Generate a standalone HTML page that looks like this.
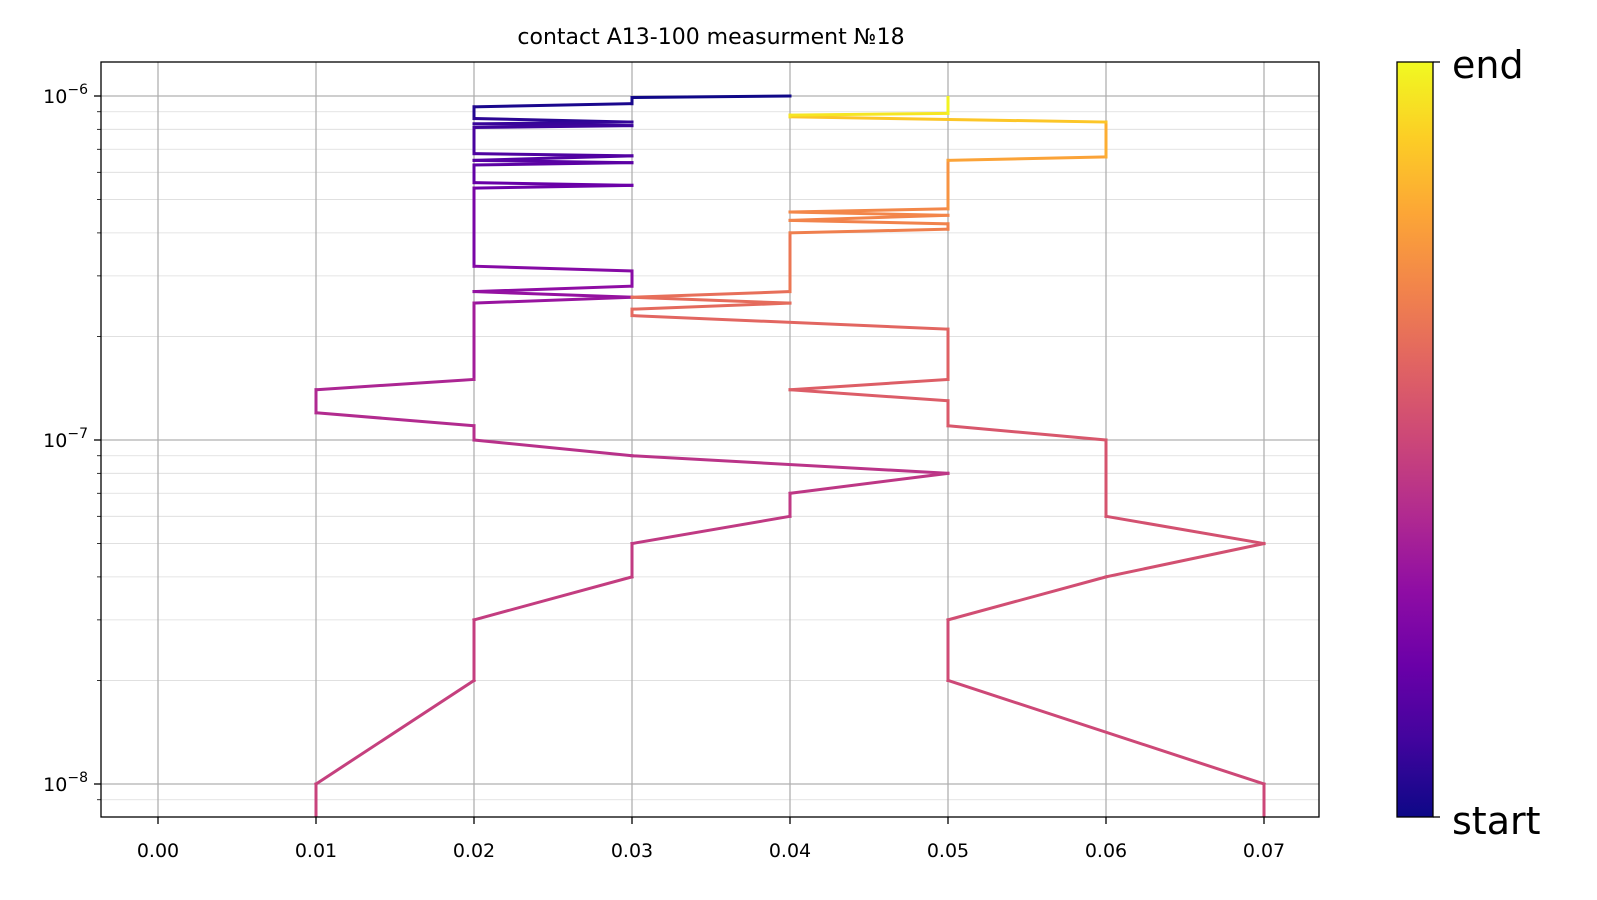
<!DOCTYPE html>
<html><head><meta charset="utf-8"><style>
html,body{margin:0;padding:0;width:1597px;height:900px;overflow:hidden;background:#fff;}
svg{display:block;font-family:"DejaVu Sans","Liberation Sans",sans-serif;}
</style></head><body>
<svg id="chart" width="1597" height="900" viewBox="0 0 1597 900">
<defs>
<linearGradient id="plasma" x1="0" y1="1" x2="0" y2="0">
<stop offset="0" stop-color="#0d0887"/><stop offset="0.1" stop-color="#41049d"/><stop offset="0.2" stop-color="#6a00a8"/><stop offset="0.3" stop-color="#8f0da4"/><stop offset="0.4" stop-color="#b12a90"/><stop offset="0.5" stop-color="#cc4778"/><stop offset="0.6" stop-color="#e16462"/><stop offset="0.7" stop-color="#f2844b"/><stop offset="0.8" stop-color="#fca636"/><stop offset="0.9" stop-color="#fcce25"/><stop offset="1" stop-color="#f0f921"/>
</linearGradient>
<clipPath id="clip"><rect x="101" y="62" width="1218" height="755"/></clipPath>
</defs>
<text x="711" y="44" text-anchor="middle" font-size="22">contact A13-100 measurment №18</text>
<g id="grid"></g>
<g id="series" clip-path="url(#clip)"></g>
<rect x="101" y="62" width="1218" height="755" fill="none" stroke="#000" stroke-width="1.3"/>
<g id="axes"></g>
<rect x="1397" y="62" width="36" height="755" fill="url(#plasma)" stroke="#000" stroke-width="1.3"/>
<line x1="1433" y1="62" x2="1440" y2="62" stroke="#000" stroke-width="1.3"/>
<line x1="1433" y1="817" x2="1440" y2="817" stroke="#000" stroke-width="1.3"/>
<text x="1452" y="78" font-size="38">end</text>
<text x="1452" y="834" font-size="38">start</text>
</svg>
<script>
const xs=[0.04,0.03,0.03,0.02,0.02,0.03,0.02,0.03,0.02,0.02,0.02,0.03,0.02,0.03,0.02,0.02,0.03,0.02,0.02,0.03,0.03,0.02,0.03,0.02,0.02,0.01,0.01,0.02,0.02,0.03,0.05,0.04,0.04,0.03,0.03,0.02,0.02,0.01,0.01,0.01,0.07,0.07,0.07,0.05,0.05,0.06,0.07,0.06,0.06,0.05,0.05,0.04,0.05,0.05,0.03,0.03,0.04,0.03,0.04,0.04,0.05,0.05,0.04,0.05,0.04,0.05,0.05,0.06,0.06,0.04,0.04,0.05,0.05];
const ys=[1.0e-6,9.9e-7,9.5e-7,9.3e-7,8.6e-7,8.4e-7,8.3e-7,8.2e-7,8.1e-7,8.0e-7,6.8e-7,6.7e-7,6.5e-7,6.4e-7,6.3e-7,5.6e-7,5.5e-7,5.4e-7,3.2e-7,3.1e-7,2.8e-7,2.7e-7,2.6e-7,2.5e-7,1.5e-7,1.4e-7,1.2e-7,1.1e-7,1.0e-7,9e-8,8e-8,7e-8,6e-8,5e-8,4e-8,3e-8,2e-8,1e-8,5e-9,3e-9,3e-9,5e-9,1e-8,2e-8,3e-8,4e-8,5e-8,6e-8,1.0e-7,1.1e-7,1.3e-7,1.4e-7,1.5e-7,2.1e-7,2.3e-7,2.4e-7,2.5e-7,2.6e-7,2.7e-7,4.0e-7,4.1e-7,4.25e-7,4.35e-7,4.5e-7,4.6e-7,4.7e-7,6.5e-7,6.65e-7,8.4e-7,8.7e-7,8.8e-7,8.9e-7,9.9e-7];
const ts=[0,0.01,0.02,0.03,0.05,0.07,0.08,0.09,0.1,0.11,0.13,0.14,0.15,0.16,0.17,0.19,0.2,0.21,0.27,0.28,0.29,0.31,0.32,0.33,0.38,0.39,0.4,0.41,0.42,0.43,0.44,0.45,0.45,0.46,0.46,0.47,0.47,0.48,0.49,0.49,0.5,0.5,0.5,0.51,0.52,0.53,0.53,0.54,0.55,0.56,0.57,0.58,0.58,0.6,0.61,0.62,0.62,0.63,0.64,0.68,0.69,0.69,0.7,0.7,0.71,0.71,0.78,0.8,0.84,0.92,0.94,0.97,1.0];
const xTicks=[0,0.01,0.02,0.03,0.04,0.05,0.06,0.07];
const xTickLabels=["0.00","0.01","0.02","0.03","0.04","0.05","0.06","0.07"];
const yDecades=[-8,-7,-6];
const NS="http://www.w3.org/2000/svg";
function X(v){return 158+v*15800;}
function Y(v){return 96-(Math.log10(v)+6)*344;}
function mk(tag,attrs,parent){const e=document.createElementNS(NS,tag);for(const k in attrs)e.setAttribute(k,attrs[k]);parent.appendChild(e);return e;}
const stops=[[13,8,135],[65,4,157],[106,0,168],[143,13,164],[177,42,144],[204,71,120],[225,100,98],[242,132,75],[252,166,54],[252,206,37],[240,249,33]];
function plasma(t){t=Math.max(0,Math.min(1,t));const s=t*10,i=Math.min(9,Math.floor(s)),f=s-i;const a=stops[i],b=stops[i+1];return `rgb(${a.map((c,k)=>Math.round(c+(b[k]-c)*f)).join(',')})`;}
const grid=document.getElementById('grid'),axes=document.getElementById('axes'),series=document.getElementById('series');
for(let d=-9;d<=-6;d++){for(let m=2;m<=9;m++){const y=Y(m*Math.pow(10,d));if(y<62||y>817)continue;
const l=mk('line',{x1:101,x2:1319,y1:y,y2:y,stroke:'#dcdcdc','stroke-width':0.8},grid);


const t=mk('line',{x1:97,x2:101,y1:y,y2:y,stroke:'#000','stroke-width':0.8},axes);

}}
yDecades.forEach(d=>{const y=Y(Math.pow(10,d));
const l=mk('line',{x1:101,x2:1319,y1:y,y2:y,stroke:'#b0b0b0','stroke-width':1.3},grid);


mk('line',{x1:94,x2:101,y1:y,y2:y,stroke:'#000','stroke-width':1.3},axes);
const t=mk('text',{x:88,y:y+7,'text-anchor':'end','font-size':19},axes);


t.innerHTML=`10<tspan dy="-9" font-size="14">−${-d}</tspan>`;});
xTicks.forEach((v,i)=>{const x=X(v);
const l=mk('line',{x1:x,x2:x,y1:62,y2:817,stroke:'#b0b0b0','stroke-width':1.3},grid);


mk('line',{x1:x,x2:x,y1:817,y2:824,stroke:'#000','stroke-width':1.3},axes);
const t=mk('text',{x:x,y:857,'text-anchor':'middle','font-size':19},axes);


t.textContent=xTickLabels[i];});
const n=xs.length-1;
for(let i=0;i<n;i++){
const s=mk('line',{x1:X(xs[i]),y1:Y(ys[i]),x2:X(xs[i+1]),y2:Y(ys[i+1]),stroke:plasma((ts[i]+ts[i+1])/2),'stroke-width':3,'stroke-linecap':'square'},series);

}
</script>
</body></html>
